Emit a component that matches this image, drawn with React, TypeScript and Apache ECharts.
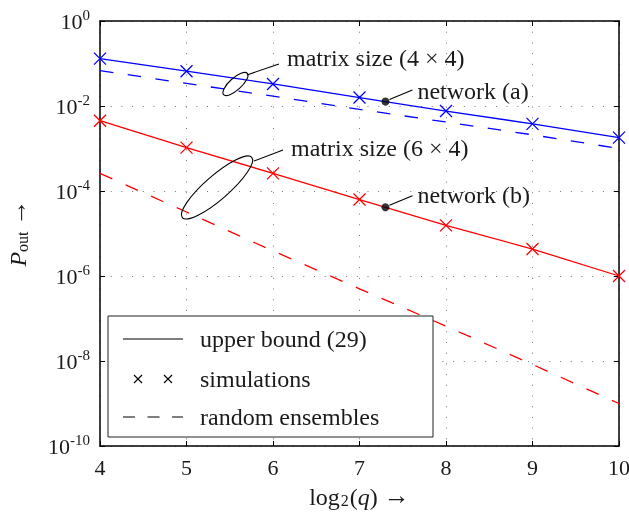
import React, { useEffect, useRef } from "react";
import * as echarts from "echarts";

// x values: log2(q)
const qLog2 = [4, 5, 6, 7, 8, 9, 10];
// network (a): matrix size 4x4
const bound4x4 = [0.13, 0.066, 0.033, 0.0158, 0.0076, 0.0038, 0.0018];
const sim4x4 = [0.13, 0.066, 0.033, 0.0158, 0.0076, 0.0038, 0.0018];
const random4x4 = [0.068, 0.034, 0.017, 0.0083, 0.0042, 0.0021, 0.001];
// network (b): matrix size 6x4
const bound6x4 = [0.0045, 0.00105, 0.00026, 6.3e-5, 1.55e-5, 4.3e-6, 1.0e-6];
const sim6x4 = [0.0045, 0.00105, 0.00026, 6.3e-5, 1.55e-5, 4.3e-6, 1.0e-6];
const random6x4 = [2.6e-4, 3.2e-5, 3.9e-6, 5.0e-7, 6.6e-8, 8.3e-9, 1.0e-9];
// marked operating points
const networkA = [7.3, 0.0127];
const networkB = [7.3, 4.14e-5];
// ellipse annotation centres (data coordinates)
const ellipse4x4 = [5.566, 0.033];
const ellipse6x4 = [5.353, 1.21e-4];

const legendLabels = ["upper bound (29)", "simulations", "random ensembles"];
const noteLabels = ["matrix size (4 × 4)", "matrix size (6 × 4)", "network (a)", "network (b)"];

const FONT = '"Liberation Serif", "Times New Roman", Times, serif';
const TXT = "#1a1a1a";
const BLUE = "#0000ff";
const RED = "#ff0000";
const DASH = [13.5, 14.5];

export default function App() {
  const ref = useRef<HTMLDivElement>(null);
  useEffect(() => {
    const el = ref.current!;
    const chart = echarts.init(el, null, { renderer: "svg" });
    const pair = (ys: number[]) => qLog2.map((x, i) => [x, ys[i]]);
    const crossPath = "path://M0,0L10,10M10,0L0,10";
    const lineSeries = (name: string, ys: number[], color: string, dashed: boolean) => ({
      type: "line",
      name,
      data: pair(ys),
      symbol: "none",
      showSymbol: false,
      lineStyle: { color, width: 1.3, type: dashed ? DASH : "solid" },
      z: 3,
      silent: true,
    });
    const simSeries = (name: string, ys: number[], color: string) => ({
      type: "scatter",
      name,
      data: pair(ys),
      symbol: crossPath,
      symbolSize: 12,
      itemStyle: { color, borderColor: color, borderWidth: 1.3, opacity: 1 },
      z: 4,
      silent: true,
    });
    const dotSeries = (name: string, p: number[]) => ({
      type: "scatter",
      name,
      data: [p],
      symbol: "circle",
      symbolSize: 8,
      itemStyle: { color: "#000" },
      z: 5,
      silent: true,
    });

    const axisLineStyle = { show: true, lineStyle: { color: "#000", width: 1.5 } };
    const tick = { show: true, inside: true, length: 5, lineStyle: { color: "#000", width: 1 } };
    const grid = { type: [1, 9.7], color: "#777", width: 1 };

    chart.setOption({
      animation: false,
      grid: { left: 100, right: 10, top: 21, bottom: 67, containLabel: false, outerBoundsMode: "none" },
      xAxis: [
        {
          type: "value",
          min: 4,
          max: 10,
          interval: 1,
          axisLine: axisLineStyle,
          axisTick: tick,
          axisLabel: { fontSize: 22, fontFamily: FONT, color: TXT, margin: 10 },
          splitLine: { show: true, lineStyle: grid },
          name: "{r|log}{sub|2}{r|(}{i|q}{r|) }{a|→}",
          nameLocation: "middle",
          nameGap: 36,
          nameTextStyle: {
            fontFamily: FONT,
            color: TXT,
            rich: {
              r: { fontSize: 24, fontFamily: FONT, color: TXT, lineHeight: 26, verticalAlign: "bottom" },
              a: { fontSize: 26, fontFamily: FONT, color: TXT, lineHeight: 26, verticalAlign: "bottom" },
              i: { fontSize: 24, fontFamily: FONT, color: TXT, fontStyle: "italic", lineHeight: 26, verticalAlign: "bottom" },
              sub: { fontSize: 16, fontFamily: FONT, color: TXT, lineHeight: 16, verticalAlign: "bottom", padding: [0, 1, 0, 1] },
            },
          },
        },
        {
          type: "value",
          position: "top",
          min: 4,
          max: 10,
          interval: 1,
          axisLine: axisLineStyle,
          axisTick: tick,
          axisLabel: { show: false },
          splitLine: { show: false },
        },
      ],
      yAxis: [
        {
          type: "log",
          logBase: 100,
          min: 1e-10,
          max: 1,
          axisLine: axisLineStyle,
          axisTick: tick,
          minorTick: { show: false },
          splitLine: { show: true, lineStyle: grid },
          axisLabel: {
            margin: 10,
            fontFamily: FONT,
            color: TXT,
            formatter: (v: number) => `{b|10}{s|${Math.round(Math.log10(v))}}`,
            rich: {
              b: { fontSize: 22, fontFamily: FONT, color: TXT, lineHeight: 22, verticalAlign: "bottom" },
              s: { fontSize: 15, fontFamily: FONT, color: TXT, lineHeight: 15, verticalAlign: "bottom", padding: [0, 0, 10, 0] },
            },
          },
        },
        {
          type: "log",
          logBase: 100,
          min: 1e-10,
          max: 1,
          position: "right",
          axisLine: axisLineStyle,
          axisTick: tick,
          axisLabel: { show: false },
          splitLine: { show: false },
        },
      ],
      series: [
        lineSeries("upper bound 4x4", bound4x4, BLUE, false),
        lineSeries("random 4x4", random4x4, BLUE, true),
        simSeries("simulations 4x4", sim4x4, BLUE),
        lineSeries("upper bound 6x4", bound6x4, RED, false),
        lineSeries("random 6x4", random6x4, RED, true),
        simSeries("simulations 6x4", sim6x4, RED),
        dotSeries("network (a)", networkA),
        dotSeries("network (b)", networkB),
      ],
    });

    const px = (p: number[]) => chart.convertToPixel({ gridIndex: 0 }, p) as number[];
    const e1 = px(ellipse4x4);
    const e2 = px(ellipse6x4);
    const dA = px(networkA);
    const dB = px(networkB);
    const thin = { stroke: "#000", lineWidth: 1.1, fill: "none" };
    const txt = (x: number, y: number, text: string) => ({
      type: "text",
      x,
      y,
      z: 100,
      style: { text, fontFamily: FONT, fontSize: 24, fill: TXT, align: "left", verticalAlign: "middle" },
    });
    const seg = (x1: number, y1: number, x2: number, y2: number, extra: any = {}) => ({
      type: "line",
      z: 100,
      shape: { x1, y1, x2, y2 },
      style: { stroke: "#000", lineWidth: 1.1, ...extra },
    });
    const deg = Math.PI / 180;

    // legend box
    const LX = 108, LY = 316, LW = 325, LH = 121;
    const rows = [339, 379, 417];

    chart.setOption({
      graphic: [
        { type: "ellipse", x: e1[0], y: e1[1], rotation: 42 * deg, z: 100, shape: { cx: 0, cy: 0, rx: 16, ry: 6 }, style: thin },
        seg(e1[0] + 11.5, e1[1] - 9, e1[0] + 43.5, e1[1] - 20),
        txt(e1[0] + 51.5, e1[1] - 25.5, noteLabels[0]),
        { type: "ellipse", x: e2[0], y: e2[1], rotation: 41 * deg, z: 100, shape: { cx: 0, cy: 0, rx: 46, ry: 12 }, style: thin },
        seg(e2[0] + 37, e2[1] - 26.5, e2[0] + 66, e2[1] - 37.5),
        txt(e2[0] + 74, e2[1] - 39, noteLabels[1]),
        seg(dA[0] + 4, dA[1] - 2, dA[0] + 27, dA[1] - 11.5),
        txt(dA[0] + 32, dA[1] - 11, noteLabels[2]),
        seg(dB[0] + 4, dB[1] - 2, dB[0] + 27, dB[1] - 11.5),
        txt(dB[0] + 32, dB[1] - 12, noteLabels[3]),
        {
          type: "rect",
          z: 100,
          shape: { x: LX, y: LY, width: LW, height: LH },
          style: { fill: "#fff", stroke: "#222", lineWidth: 1 },
        },
        seg(123, rows[0], 183, rows[0]),
        seg(134, rows[1] - 4, 142, rows[1] + 4),
        seg(134, rows[1] + 4, 142, rows[1] - 4),
        seg(164, rows[1] - 4, 172, rows[1] + 4),
        seg(164, rows[1] + 4, 172, rows[1] - 4),
        seg(123, rows[2], 183, rows[2], { lineDash: [12, 12.5] }),
        txt(200, rows[0], legendLabels[0]),
        txt(200, rows[1], legendLabels[1]),
        txt(200, rows[2], legendLabels[2]),
        {
          type: "text",
          x: 17,
          y: 233,
          rotation: Math.PI / 2,
          z: 100,
          style: {
            text: "{i|P}{sub|out}{r| }{a|→}",
            align: "center",
            verticalAlign: "middle",
            fontFamily: FONT,
            fill: TXT,
            rich: {
              i: { fontSize: 24, fontFamily: FONT, fill: TXT, fontStyle: "italic", lineHeight: 26, verticalAlign: "bottom" },
              sub: { fontSize: 16, fontFamily: FONT, fill: TXT, lineHeight: 16, verticalAlign: "bottom" },
              r: { fontSize: 24, fontFamily: FONT, fill: TXT, lineHeight: 26, verticalAlign: "bottom" },
              a: { fontSize: 26, fontFamily: FONT, fill: TXT, lineHeight: 26, verticalAlign: "bottom" },
            },
          },
        },
      ],
    });

    return () => chart.dispose();
  }, []);
  return <div ref={ref} style={{ position: "fixed", left: 0, top: 0, width: 629, height: 513 }} />;
}
